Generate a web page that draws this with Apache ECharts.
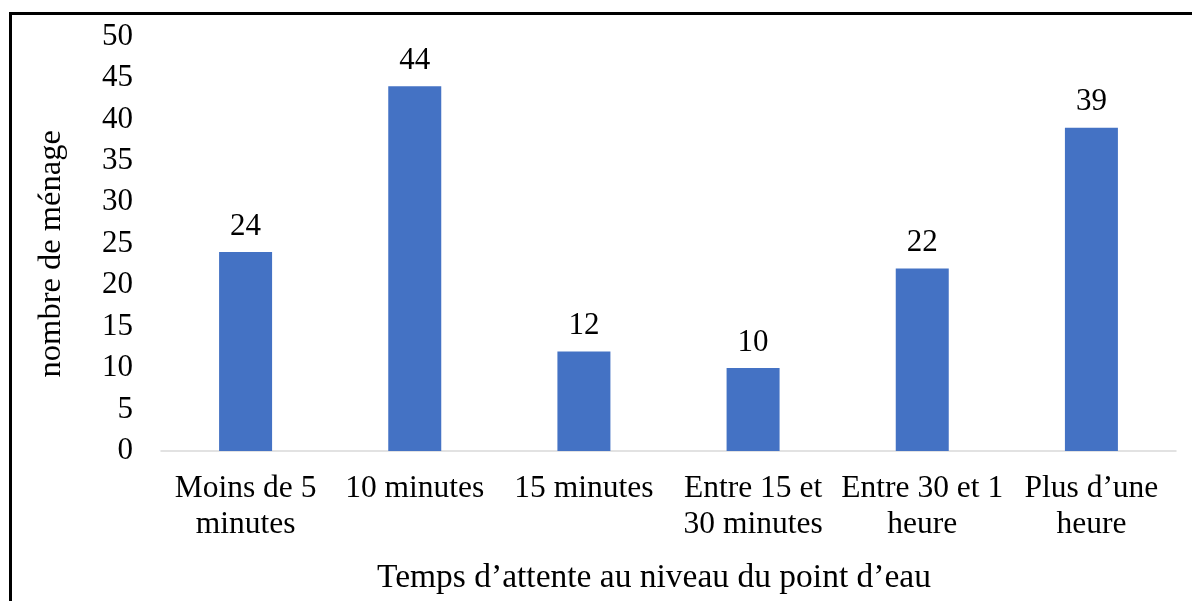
<!DOCTYPE html>
<html>
<head>
<meta charset="utf-8">
<script src="https://cdn.jsdelivr.net/npm/echarts@6/dist/echarts.min.js"></script>
<style>
html,body{margin:0;padding:0;background:#fff;}
#c{width:1192px;height:601px;}
</style>
</head>
<body>
<div id="c"></div>
<script>
var categories = ["Moins de 5\nminutes", "10 minutes", "15 minutes", "Entre 15 et\n30 minutes", "Entre 30 et 1\nheure", "Plus d\u2019une\nheure"];
var values = [24, 44, 12, 10, 22, 39];
var yAxisName = "nombre de m\u00e9nage";
var xAxisName = "Temps d\u2019attente au niveau du point d\u2019eau";

var FONT = "'Liberation Serif', 'Times New Roman', serif";
var chart = echarts.init(document.getElementById('c'), null, {renderer: 'canvas'});
chart.setOption({
  backgroundColor: '#ffffff',
  animation: false,
  textStyle: {fontFamily: FONT, color: '#000'},
  graphic: [
    {type: 'line', shape: {x1: 10.5, y1: 13.5, x2: 1192, y2: 13.5}, style: {stroke: '#000', lineWidth: 3}},
    {type: 'line', shape: {x1: 10.5, y1: 12, x2: 10.5, y2: 601}, style: {stroke: '#000', lineWidth: 3}}
  ],
  grid: {left: 161, right: 16, top: 36.5, bottom: 150, containLabel: false},
  xAxis: {
    type: 'category',
    data: categories,
    name: xAxisName,
    nameLocation: 'middle',
    nameGap: 110,
    nameTextStyle: {fontFamily: FONT, fontSize: 33.5, color: '#000', padding: [0, 29, 0, 0]},
    axisLine: {show: true, lineStyle: {color: '#d9d9d9', width: 1.5}},
    axisTick: {show: false},
    axisLabel: {fontFamily: FONT, fontSize: 31.5, color: '#000', margin: 20, lineHeight: 36, interval: 0}
  },
  yAxis: {
    type: 'value',
    min: 0, max: 50, interval: 5,
    name: yAxisName,
    nameLocation: 'middle',
    nameGap: 93,
    nameRotate: 90,
    nameTextStyle: {fontFamily: FONT, fontSize: 32.5, color: '#000', padding: [0, 20, 0, 0]},
    axisLine: {show: false},
    axisTick: {show: false},
    splitLine: {show: false},
    axisLabel: {fontFamily: FONT, fontSize: 31, color: '#000', margin: 28}
  },
  series: [{
    type: 'bar',
    data: values,
    barWidth: 53,
    itemStyle: {color: '#4472C4'},
    label: {show: true, position: 'top', distance: 10, fontFamily: FONT, fontSize: 31, color: '#000'}
  }]
});
</script>
</body>
</html>
